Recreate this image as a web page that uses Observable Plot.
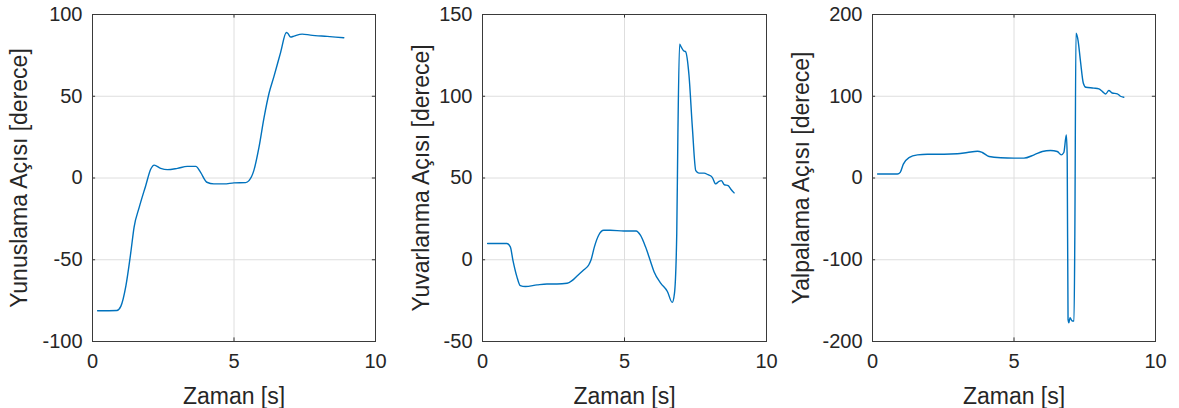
<!DOCTYPE html>
<html><head><meta charset="utf-8">
<script src="https://cdn.jsdelivr.net/npm/d3@7"></script>
<script src="https://cdn.jsdelivr.net/npm/@observablehq/plot@0.6"></script>
<style>
html,body{margin:0;padding:0;background:#fff;}
#wrap{position:relative;width:1179px;height:408px;overflow:hidden;}
.p{position:absolute;top:0;}
</style></head>
<body><div id="wrap"></div>
<script>
// Panel 1: Yunuslama (pitch)
const t1 = [0.18,0.86,1.0,1.18,1.35,1.47,1.65,1.88,2.06,2.18,2.41,2.65,3.0,3.35,3.65,3.82,4.04,4.29,4.65,5.0,5.41,5.53,5.7,5.88,6.06,6.24,6.41,6.65,6.85,6.9,7.0,7.12,7.41,7.7,8.29,8.88];
const pitch = [-81.2,-81,-78.5,-66,-46,-30,-18,-4.7,5.5,7.9,5.9,5.1,5.9,7.1,7.1,3.4,-2.6,-3.6,-3.6,-3,-2.8,-1.6,4.5,18.6,36.8,52,62,77,89,88.5,86.2,86.8,88,87.4,86.6,85.8];
// Panel 2: Yuvarlanma (roll)
const t2 = [0.18,0.86,0.98,1.07,1.21,1.33,1.51,1.92,2.27,2.62,2.98,3.15,3.33,3.56,3.74,3.82,3.94,4.09,4.27,4.5,4.98,5.41,5.56,5.74,5.92,6.04,6.28,6.51,6.68,6.76,6.84,6.88,6.94,7.0,7.09,7.15,7.27,7.39,7.51,7.62,7.8,7.94,8.09,8.21,8.33,8.41,8.51,8.65,8.74,8.86];
const roll = [9.9,9.9,7.9,-0.2,-10.3,-15.8,-16.4,-15.4,-14.8,-14.8,-14.4,-12.8,-9.9,-6.3,-3.2,-0.2,7.9,15,18,18,17.6,17.6,15,7.9,-1.2,-7.3,-14.4,-19.4,-26.1,-20.4,16,76.7,131.8,130,127.7,127.3,113,80.8,54.5,53,53,52,50.4,46.4,48,48.4,46,45.3,43.3,40.9];
// Panel 3: Yalpalama (yaw)
const t3 = [0.18,0.88,0.98,1.09,1.29,1.59,1.94,2.53,3.0,3.35,3.71,3.88,4.12,4.53,5.0,5.35,5.71,6.0,6.29,6.53,6.67,6.76,6.85,6.88,6.91,6.94,6.98,7.06,7.12,7.15,7.19,7.26,7.35,7.45,7.54,7.82,8.0,8.12,8.24,8.35,8.47,8.65,8.76,8.88];
const yaw = [4.9,4.9,6.9,17,25,28.3,29.1,29.1,29.6,31.2,32.8,31.2,26.3,24.7,24.3,24.3,28.3,32.4,33.6,32.4,28.3,31.2,52.6,25,-173,-177,-171,-175,-175,-68,177,169,142.5,116,111,110,109,106,102.8,107,104,103,100,98.8];

const xTicks = [0, 5, 10];
const yTicks1 = [-100, -50, 0, 50, 100];
const yTicks2 = [-50, 0, 50, 100, 150];
const yTicks3 = [-200, -100, 0, 100, 200];
const xLabel = "Zaman [s]";
const yLabels = ["Yunuslama Açısı [derece]", "Yuvarlanma Açısı [derece]", "Yalpalama Açısı [derece]"];

const FONT = "'Liberation Sans', Arial, sans-serif";
const TXT = "#262626";

function panel(t, v, yTicks, ylab, left, width, mL, mR, ylabX) {
  const data = t.map((x, i) => ({x, y: v[i]}));
  const y0 = yTicks[0], y1 = yTicks[yTicks.length - 1];
  const ty = (y1 - y0) * 0.011;
  const tx = 0.11;
  const chart = Plot.plot({
    width, height: 408,
    marginLeft: mL, marginRight: mR, marginTop: 14, marginBottom: 67,
    style: {fontFamily: FONT, fontSize: "20px", color: TXT, background: "transparent", overflow: "visible"},
    x: {domain: [0, 10]},
    y: {domain: [y0, y1]},
    marks: [
      Plot.ruleX(xTicks, {stroke: "#dedede", strokeWidth: 1}),
      Plot.ruleY(yTicks, {stroke: "#dedede", strokeWidth: 1}),
      Plot.line(data, {x: "x", y: "y", stroke: "#0072BD", strokeWidth: 1.4, curve: "monotone-x"}),
      Plot.ruleY(yTicks, {x1: 0, x2: tx, stroke: "#333"}),
      Plot.ruleY(yTicks, {x1: 10 - tx, x2: 10, stroke: "#333"}),
      Plot.ruleX(xTicks, {y1: y0, y2: y0 + ty, stroke: "#333"}),
      Plot.ruleX(xTicks, {y1: y1 - ty, y2: y1, stroke: "#333"}),
      Plot.frame({stroke: "#3a3a3a", strokeWidth: 1}),
      Plot.axisY({ticks: yTicks, tickSize: 0, tickPadding: 10, tickFormat: d => String(d), label: null, fill: TXT}),
      Plot.axisX({ticks: xTicks, tickSize: 0, tickPadding: 12, tickFormat: d => String(d), label: null, fill: TXT}),
      Plot.text([xLabel], {frameAnchor: "bottom", text: d => d, dy: 55, fontSize: 23, fill: TXT, textAnchor: "middle", lineAnchor: "middle"}),
      Plot.text([ylab], {frameAnchor: "left", text: d => d, dx: -ylabX, rotate: -90, fontSize: 23, fill: TXT, textAnchor: "middle", lineAnchor: "middle"})
    ]
  });
  const div = document.createElement("div");
  div.className = "p";
  div.style.left = left + "px";
  div.appendChild(chart);
  document.getElementById("wrap").appendChild(div);
}

panel(t1, pitch, yTicks1, yLabels[0], 0, 393, 92, 18, 73);
panel(t2, roll, yTicks2, yLabels[1], 393, 393, 89, 20, 61);
panel(t3, yaw, yTicks3, yLabels[2], 786, 393, 86, 24, 71);
</script></body></html>
